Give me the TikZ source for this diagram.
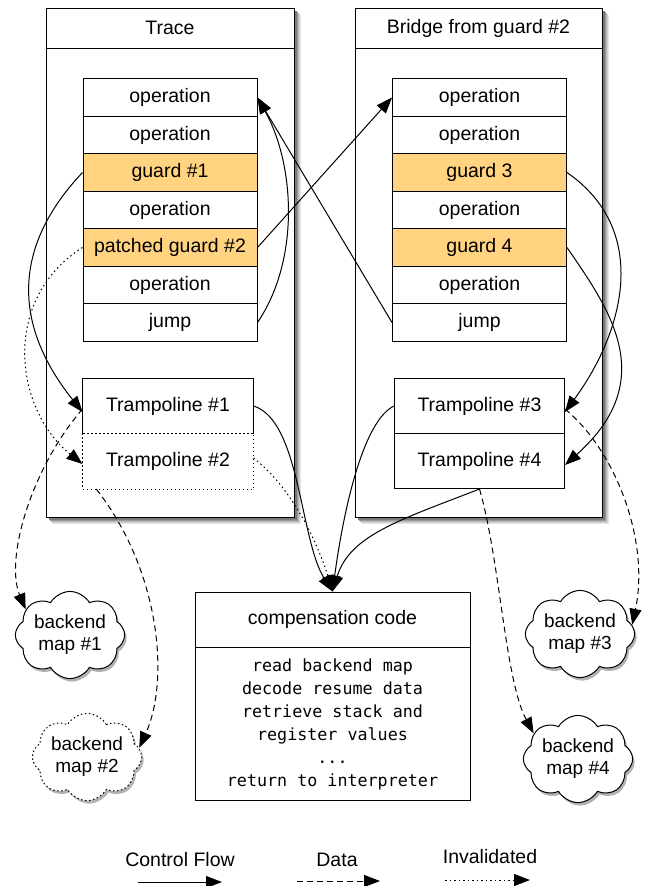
\documentclass[tikz,border=0pt]{standalone}
\usepackage{fontspec}
\setmainfont{Liberation Sans}
\newfontfamily\codefont{DejaVu Sans Mono}
\usetikzlibrary{arrows.meta,shapes.symbols,shadows,calc}
\definecolor{guardfill}{HTML}{FFD37F}

\tikzset{
  frame/.style={draw, fill=white, line width=1pt, inner sep=0pt},
  titlerow/.style={draw, line width=1pt, inner sep=0pt, anchor=north},
  oprow/.style={draw, line width=1pt, inner sep=0pt, minimum width=174pt, minimum height=37.5pt},
  tramp/.style={line width=1pt, inner sep=0pt, minimum width=170pt, minimum height=55pt},
  bmap/.style={cloud, cloud puffs=8, cloud puff arc=120, aspect=1.45, draw, fill=white,
    line width=1pt, inner sep=0pt, align=center, font=\fontsize{19}{22}\selectfont,
    minimum width=104pt, minimum height=66pt,
    drop shadow={shadow xshift=2pt, shadow yshift=-3pt, fill=black!30, opacity=1}},
  flow/.style={line width=1pt, -{Triangle[length=16pt,width=12pt]}},
  data/.style={flow, dash pattern=on 6pt off 4pt},
  gone/.style={flow, dash pattern=on 1.5pt off 3pt},
}

\begin{document}
\begin{tikzpicture}[x=1pt, y=-1pt, font=\fontsize{19.5}{22}\selectfont]
\useasboundingbox (0,0) rectangle (652,886);

% soft shadows under the two code blocks
\foreach \k/\c in {7/10, 6/18, 5/28, 4/40, 3/52}{
  \fill[black!\c] ({46+\k},{8+\k}) rectangle ({294+\k},{517+\k});
  \fill[black!\c] ({355+\k},{8+\k}) rectangle ({602+\k},{517+\k});
}

% the two code blocks
\node[frame, minimum width=248pt, minimum height=509pt] (trace) at (170,262.5) {};
\node[titlerow, minimum width=248pt, minimum height=40pt] (tracetitle) at (trace.north) {Trace};
\node[frame, minimum width=247pt, minimum height=509pt] (bridge) at (478.5,262.5) {};
\node[titlerow, minimum width=247pt, minimum height=40pt] (bridgetitle) at (bridge.north) {Bridge from guard \#2};

\foreach \i/\txt/\fc in {1/operation/white, 2/operation/white, 3/guard \#1/guardfill,
    4/operation/white, 5/patched guard \#2/guardfill, 6/operation/white, 7/jump/white}
  \node[oprow, fill=\fc] (t\i) at (170,{60+37.5*\i}) {\txt};
\foreach \i/\txt/\fc in {1/operation/white, 2/operation/white, 3/guard 3/guardfill,
    4/operation/white, 5/guard 4/guardfill, 6/operation/white, 7/jump/white}
  \node[oprow, fill=\fc] (b\i) at (479.5,{60+37.5*\i}) {\txt};

% trampolines
\node[tramp] (tr1) at (168,406) {Trampoline \#1};
\node[tramp] (tr2) at (168,461) {Trampoline \#2};
\draw[line width=1pt] (tr1.south west) -- (tr1.north west) -- (tr1.north east) -- (tr1.south east);
\draw[line width=1pt, dash pattern=on 1.5pt off 2.5pt] (tr2.north west) rectangle (tr2.south east);
\node[tramp, draw] (tr3) at (479.5,406) {Trampoline \#3};
\node[tramp, draw] (tr4) at (479.5,461) {Trampoline \#4};

% compensation code
\node[draw, line width=1pt, minimum width=275pt, minimum height=208pt] (comp) at (332.5,696) {};
\node[titlerow, minimum width=275pt, minimum height=55pt] (comptitle) at (comp.north) {compensation code};
\node[align=center, font=\codefont\fontsize{16.7}{23}\selectfont] (compbody) at (332.5,724)
  {read backend map\\decode resume data\\retrieve stack and\\register values\\...\\return to interpreter};

% backend maps
\node[bmap] (map1) at (70,635) {backend\\map \#1};
\node[bmap, dash pattern=on 1.5pt off 2.5pt] (map2) at (87,757) {backend\\map \#2};
\node[bmap] (map3) at (580,634) {backend\\map \#3};
\node[bmap] (map4) at (578,759) {backend\\map \#4};

% control flow
\draw[flow] (t3.west) .. controls (0,260) and (25,340) .. ([yshift=-6pt]tr1.west);
\draw[flow] (t5.east) -- (b1.west);
\draw[flow] (t7.east) .. controls (300,260) and (295,165) .. (t1.east);
\draw[flow] (b7.west) -- (t1.east);
\draw[flow] (b3.east) .. controls (650,230) and (625,330) .. ([yshift=-6pt]tr3.east);
\draw[flow] (b5.east) .. controls (610,310) and (660,380) .. ([yshift=-4pt]tr4.east);
\draw[flow] (tr1.east) .. controls (300,420) and (300,540) .. (comp.north);
\draw[flow] (tr3.west) .. controls (365,420) and (345,500) .. (comp.north);
\draw[flow] (tr4.south) .. controls (400,520) and (350,535) .. (comp.north);

% invalidated
\draw[gone] (t5.west) .. controls (0,300) and (15,410) .. ([yshift=-3pt]tr2.west);
\draw[gone] ([yshift=3pt]tr2.east) .. controls (295,490) and (320,550) .. (comp.north);

% data
\draw[data] ([yshift=-3pt]tr1.west) .. controls (30,470) and (5,560) .. (map1.150);
\draw[data] ($(tr2.south west)!0.08!(tr2.south east)$) .. controls (160,570) and (170,680) .. (map2.10);
\draw[data] ([yshift=-3pt]tr3.east) .. controls (615,450) and (650,540) .. (map3.10);
\draw[data] (tr4.south) .. controls (500,560) and (505,680) .. (map4.150);

% legend
\node (lcf) at (180,860) {Control Flow};
\node (ldata) at (337,860) {Data};
\node (lgone) at (490,857) {Invalidated};
\coordinate (cfa) at (138,882); \coordinate (cfb) at (222,882);
\coordinate (da) at (297,881); \coordinate (db) at (380,881);
\coordinate (ga) at (445,880); \coordinate (gb) at (530,880);
\draw[flow] (cfa) -- (cfb);
\draw[data] (da) -- (db);
\draw[gone] (ga) -- (gb);
\end{tikzpicture}
\end{document}
